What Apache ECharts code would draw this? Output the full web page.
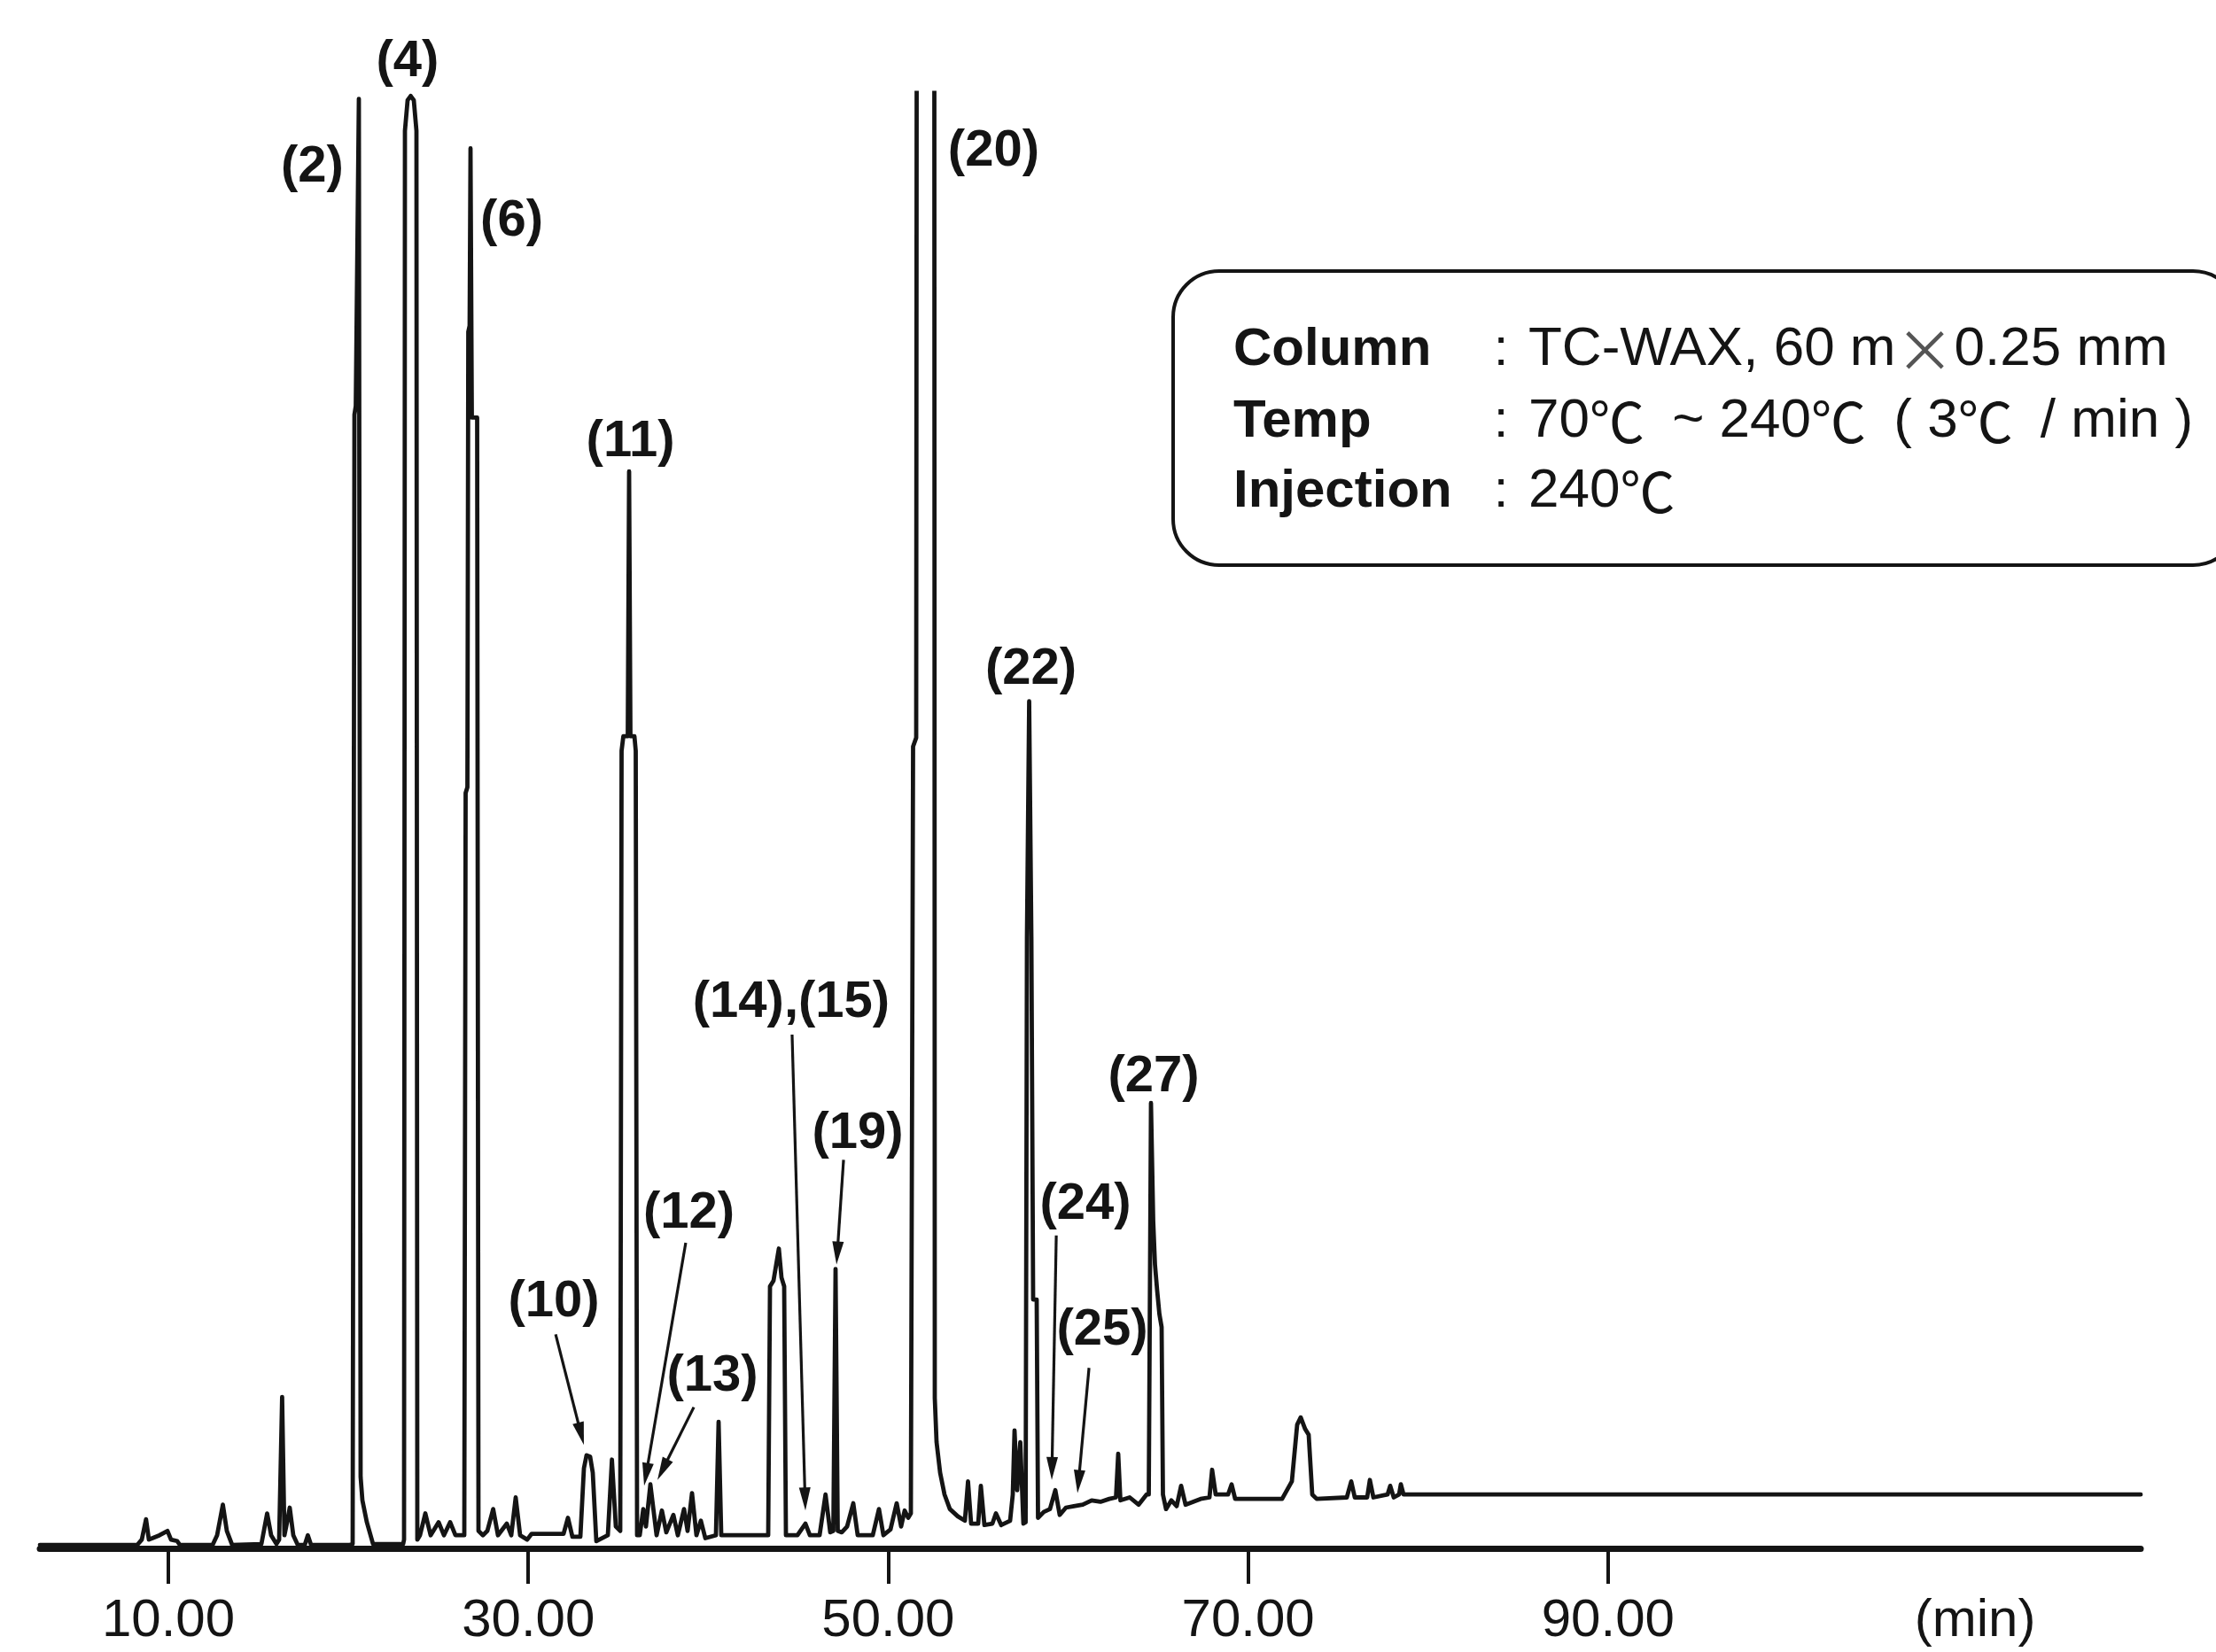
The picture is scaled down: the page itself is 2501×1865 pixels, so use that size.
<!DOCTYPE html>
<html>
<head>
<meta charset="utf-8">
<script src="https://cdn.jsdelivr.net/npm/echarts@6/dist/echarts.min.js"></script>
<style>
html,body{margin:0;padding:0;background:#fff;}
#c{width:2501px;height:1865px;}
</style>
</head>
<body>
<div id="c"></div>
<script>
// ---- Chromatogram trace (retention time in min, signal in % of full scale) ----
const retentionTime = [
2.861, 5.569, 8.277, 8.523, 8.759, 8.917, 9.114, 9.508, 9.951, 10.148, 10.492, 10.640,
12.462, 12.708, 13.028, 13.250, 13.545,
15.170, 15.490, 15.711, 16.007, 16.155, 16.322, 16.450, 16.598, 16.745, 16.943, 17.189, 17.582, 17.750, 17.927,
20.093, 20.241, 20.340, 20.414, 20.586, 20.684, 20.783, 21.029, 21.374,
23.048, 23.097, 23.146, 23.294, 23.466, 23.639, 23.786, 23.835,
23.983, 24.279, 24.574, 25.017, 25.313, 25.657, 25.953,
26.445, 26.519, 26.617, 26.667, 26.740, 26.790, 26.864, 27.159, 27.233,
27.479, 27.725, 28.050, 28.316, 28.809, 29.055, 29.301, 29.547, 29.941, 30.187, 31.960, 32.206, 32.452,
32.895, 33.092, 33.240, 33.437, 33.584, 33.781, 34.422, 34.648, 34.865,
35.111, 35.185, 35.283, 35.529, 35.603, 35.677, 35.899, 35.972, 36.046,
36.194, 36.391, 36.539, 36.785, 37.130, 37.425, 37.671, 38.065, 38.311, 38.656, 38.853, 39.099, 39.345, 39.591, 39.838, 40.428, 40.576, 40.724,
43.333, 43.432, 43.629, 43.924, 44.072, 44.220, 44.318,
44.958, 45.401, 45.648, 46.189, 46.519, 46.780,
46.952, 47.075, 47.198,
47.420, 47.716, 48.060, 48.306, 49.143, 49.488, 49.734, 50.128, 50.472, 50.719, 50.916, 51.113,
51.260, 51.383, 51.556, 51.630, 52.097, 52.541, 52.590, 52.688, 52.885, 53.131, 53.427, 53.870, 54.263, 54.436, 54.608, 55.002, 55.150, 55.347, 55.790, 55.987, 56.283, 56.775, 56.923, 57.021, 57.169, 57.341, 57.513,
57.637, 57.711, 57.834, 57.957, 58.055, 58.252, 58.326,
58.646, 58.990, 59.286, 59.532, 59.877, 60.320, 60.812, 61.305, 61.797, 62.289, 62.659, 62.782, 62.905, 63.421, 63.914, 64.357,
64.481, 64.603, 64.727, 64.825, 64.948, 65.071, 65.194, 65.268,
65.441, 65.736, 66.032, 66.278, 66.524, 67.361, 67.853, 68.001, 68.198, 68.887, 69.084, 69.281,
71.890, 72.432, 72.727, 72.924, 73.171, 73.367, 73.564, 73.810,
75.485, 75.731, 75.928, 76.617, 76.765, 76.962, 77.750, 77.897, 78.094, 78.390, 78.488, 78.636, 119.600
];
const signal = [
0.24, 0.24, 0.24, 0.6, 2.0, 0.6, 0.7, 0.9, 1.2, 0.6, 0.5, 0.24,
0.24, 0.9, 3.0, 1.2, 0.24,
0.3, 2.4, 0.9, 0.3, 0.6, 10.4, 0.9, 1.8, 2.8, 0.9, 0.24, 0.24, 0.9, 0.24,
0.24, 0.3, 77.9, 78.5, 99.6, 4.9, 3.3, 1.8, 0.3,
0.3, 0.6, 97.4, 99.5, 99.8, 99.5, 97.4, 0.6,
0.9, 2.4, 0.9, 1.8, 0.9, 1.8, 0.9,
0.9, 51.9, 52.3, 83.6, 84.0, 96.2, 77.7, 77.7, 1.2,
0.9, 1.2, 2.7, 0.9, 1.7, 0.9, 3.5, 0.9, 0.6, 1.0, 1.0, 2.1, 0.8,
0.8, 5.5, 6.4, 6.3, 5.2, 0.5, 0.9, 6.1, 1.5,
1.2, 54.8, 55.8, 55.8, 74.0, 55.8, 55.8, 54.8, 0.9,
0.9, 2.7, 1.5, 4.4, 0.9, 2.6, 1.1, 2.3, 0.9, 2.7, 1.2, 3.8, 0.9, 1.9, 0.7, 0.9, 8.7, 0.9,
0.9, 18.0, 18.4, 20.6, 18.6, 18.0, 0.9,
0.9, 1.7, 0.9, 0.9, 3.7, 1.1,
1.2, 19.2, 1.2,
1.1, 1.5, 3.1, 0.9, 0.9, 2.7, 0.9, 1.3, 3.1, 1.5, 2.6, 2.1,
2.4, 55.1, 55.7, 182.6, 213.0, 182.6, 10.3, 7.3, 5.2, 3.7, 2.7, 2.2, 1.9, 4.6, 1.7, 1.7, 4.3, 1.6, 1.7, 2.4, 1.6, 1.9, 3.7, 8.1, 4.0, 7.3, 1.7,
1.8, 42.0, 58.2, 42.0, 17.1, 17.1, 2.1,
2.5, 2.7, 4.0, 2.3, 2.8, 2.9, 3.0, 3.3, 3.2, 3.4, 3.5, 6.5, 3.3, 3.5, 3.0, 3.7,
3.7, 30.6, 22.5, 19.5, 17.7, 16.1, 15.2, 3.7,
2.7, 3.3, 2.9, 4.3, 3.0, 3.4, 3.5, 5.4, 3.7, 3.7, 4.4, 3.4,
3.4, 4.6, 8.5, 9.0, 8.2, 7.8, 3.7, 3.4,
3.5, 4.6, 3.5, 3.5, 4.7, 3.5, 3.7, 4.3, 3.5, 3.7, 4.4, 3.7, 3.7
];

// ---- Axis ticks ----
const tickValues = [10, 30, 50, 70, 90];
const unitLabelValue = 110.4;
const unitLabel = '(min)';
const timeMin = 2.86;
const timeMax = 119.6;

// ---- Peak labels (anchored in data units) ----
const peakLabels      = ['(2)', '(4)', '(6)', '(10)', '(11)', '(12)', '(13)', '(14),(15)', '(19)', '(20)', '(22)', '(24)', '(25)', '(27)'];
const peakLabelTime   = [18.00, 23.29, 29.08, 31.42, 35.68, 38.93, 40.23, 44.61, 48.31, 55.86, 57.93, 60.96, 61.90, 64.75];
const peakLabelSignal = [94.9, 102.1, 91.2, 16.9, 76.0, 23.0, 11.8, 37.5, 28.5, 96.0, 60.4, 23.6, 15.0, 32.4];

// ---- Pointer arrows: (10), (12), (13), (14),(15), (19), (24), (25) ----
const arrowFromTime   = [31.52, 38.75, 39.20, 44.66, 47.52, 59.34, 61.16];
const arrowFromSignal = [14.7, 21.0, 9.7, 35.3, 26.7, 21.5, 12.4];
const arrowToTime     = [33.09, 36.44, 37.18, 45.40, 47.13, 59.09, 60.52];
const arrowToSignal   = [7.1, 4.3, 4.7, 2.6, 19.5, 4.7, 3.8];

// ---- Conditions box ----
const conditionNames  = ['Column', 'Temp', 'Injection'];
const conditionValues = ['TC-WAX, 60 m\u00d70.25 mm', '70\u2103 ~ 240\u2103 ( 3\u2103 / min )', '240\u2103'];

const FONT = '"Liberation Sans", Arial, "Noto Sans CJK JP", sans-serif';
const CJK = '"Noto Sans CJK JP", "Noto Sans CJK SC", sans-serif';
const INK = '#141414';

const chart = echarts.init(document.getElementById('c'), null, {renderer: 'canvas', width: 2501, height: 1865});
const n = Math.min(retentionTime.length, signal.length);
const traceData = [];
for (let i = 0; i < n; i++) traceData.push([retentionTime[i], signal[i]]);

chart.setOption({
  animation: false,
  backgroundColor: '#ffffff',
  grid: {left: 45, right: 85, top: 105, bottom: 117, outerBoundsMode: 'none'},
  xAxis: {
    type: 'value', min: timeMin, max: timeMax,
    axisLine: {show: true, onZero: false, lineStyle: {color: INK, width: 7}},
    axisTick: {show: true, customValues: tickValues, length: 40, inside: false, lineStyle: {color: INK, width: 4}},
    axisLabel: {
      show: true, customValues: tickValues.concat([unitLabelValue]),
      formatter: v => (v > 100 ? unitLabel : Number(v).toFixed(2)),
      margin: 52, fontSize: 60, color: INK, fontFamily: FONT
    },
    splitLine: {show: false}
  },
  yAxis: {type: 'value', min: 0, max: 100, show: false},
  series: [{
    type: 'line', data: traceData, showSymbol: false, symbol: 'none', clip: true, silent: true,
    lineStyle: {color: INK, width: 4.8, join: 'round', cap: 'round'}
  }]
});

const toPx = (t, s) => chart.convertToPixel({gridIndex: 0}, [t, s]);
const graphics = [];

// peak labels
for (let i = 0; i < peakLabels.length; i++) {
  const p = toPx(peakLabelTime[i], peakLabelSignal[i]);
  graphics.push({type: 'text', x: p[0], y: p[1], z: 10,
    style: {text: peakLabels[i], fill: INK, font: 'bold 58px ' + FONT, align: 'center', verticalAlign: 'middle'}});
}
// arrows
for (let i = 0; i < arrowFromTime.length; i++) {
  const a = toPx(arrowFromTime[i], arrowFromSignal[i]);
  const b = toPx(arrowToTime[i], arrowToSignal[i]);
  const dx = b[0] - a[0], dy = b[1] - a[1];
  const len = Math.sqrt(dx * dx + dy * dy);
  const ux = dx / len, uy = dy / len;
  const headL = 26, headW = 13;
  const bx = b[0] - ux * headL, by = b[1] - uy * headL;
  graphics.push({type: 'line', z: 10, shape: {x1: a[0], y1: a[1], x2: bx + ux * 2, y2: by + uy * 2},
    style: {stroke: INK, lineWidth: 3.2}});
  graphics.push({type: 'polygon', z: 10, shape: {points: [
      [b[0], b[1]], [bx - uy * headW / 2, by + ux * headW / 2], [bx + uy * headW / 2, by - ux * headW / 2]]},
    style: {fill: INK}});
}
// conditions box
graphics.push({type: 'rect', z: 10, shape: {x: 1324, y: 306, width: 1203, height: 332, r: 52},
  style: {fill: 'none', stroke: INK, lineWidth: 4}});
const rowY = [395, 476, 555];
const richValue = s => s.replace(/\u2103/g, '{c|\u2103}').replace(/\u00d7/g, '{x|\u00d7}');
for (let i = 0; i < conditionNames.length; i++) {
  graphics.push({type: 'text', z: 11, x: 1392, y: rowY[i],
    style: {text: conditionNames[i], fill: INK, font: 'bold 60px ' + FONT, align: 'left', verticalAlign: 'middle'}});
  graphics.push({type: 'text', z: 11, x: 1694, y: rowY[i],
    style: {text: ':', fill: INK, font: '60px ' + FONT, align: 'center', verticalAlign: 'middle'}});
  graphics.push({type: 'text', z: 11, x: 1725, y: rowY[i],
    style: {
      text: richValue(conditionValues[i]), fill: INK, font: '62px ' + FONT,
      align: 'left', verticalAlign: 'middle',
      rich: {
        c: {fontFamily: CJK, fontSize: 62, fontWeight: 'normal', fill: INK, padding: [0, 14, 0, 0]},
        x: {fontFamily: CJK, fontSize: 66, fontWeight: 'normal', fill: '#555'}
      }
    }});
}
chart.setOption({graphic: graphics});
</script>
</body>
</html>
